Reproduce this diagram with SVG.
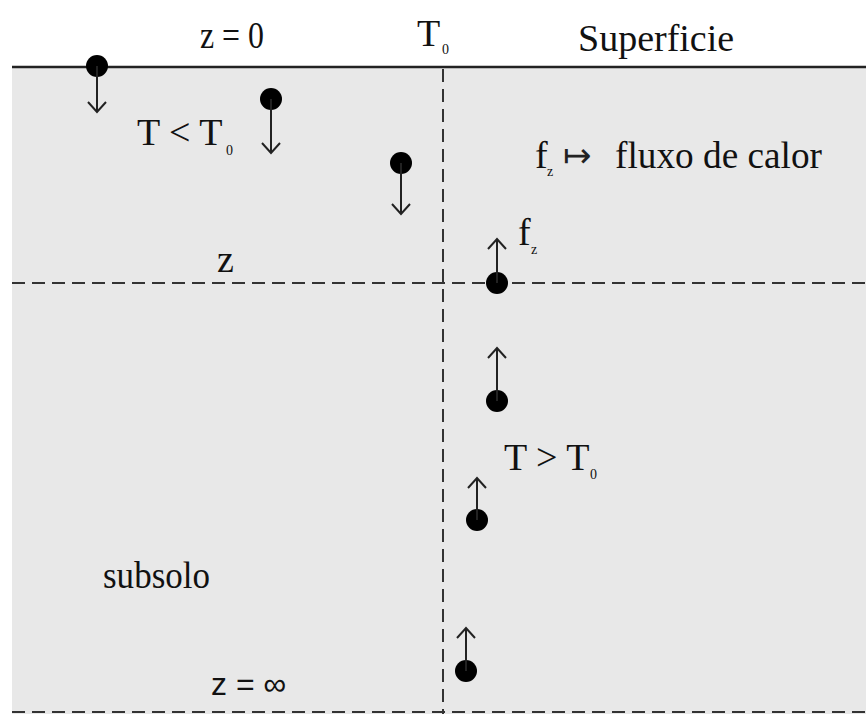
<svg xmlns="http://www.w3.org/2000/svg" width="866" height="714" viewBox="0 0 866 714">
<defs>
<style>
.t{font-family:"Liberation Serif","Times New Roman",serif;font-size:38px;fill:#111}
.sub{font-family:"Liberation Serif","Times New Roman",serif;font-size:14px;fill:#111}
.dash{stroke:#333;stroke-width:2;stroke-dasharray:13,7;fill:none}
.arr{stroke:#222;stroke-width:2;fill:none}
.dot{fill:#000}
</style>
</defs>
<rect x="0" y="0" width="866" height="714" fill="#fff"/>
<rect x="12" y="67" width="854" height="647" fill="#e8e8e8"/>
<g id="connectors">
<line x1="12" y1="67" x2="866" y2="67" stroke="#222" stroke-width="2.5"/>
<line class="dash" x1="12" y1="283" x2="866" y2="283"/>
<line class="dash" x1="12" y1="712" x2="866" y2="712"/>
<line class="dash" x1="443" y1="69" x2="443" y2="714"/>
</g>
<g id="p1"><circle class="dot" cx="97" cy="66" r="11"/><path class="arr" d="M97,66 V112 M88,102 L97,112 L106,102"/></g>
<g id="p2"><circle class="dot" cx="271" cy="99" r="11"/><path class="arr" d="M271,99 V153 M262,143 L271,153 L280,143"/></g>
<g id="p3"><circle class="dot" cx="401" cy="163" r="11"/><path class="arr" d="M401,163 V214 M392,204 L401,214 L410,204"/></g>
<g id="p4"><circle class="dot" cx="497" cy="283" r="11"/><path class="arr" d="M497,283 V239 M488,249 L497,239 L506,249"/></g>
<g id="p5"><circle class="dot" cx="497" cy="401" r="11"/><path class="arr" d="M497,401 V348 M488,358 L497,348 L506,358"/></g>
<g id="p6"><circle class="dot" cx="477" cy="520" r="11"/><path class="arr" d="M477,520 V478 M468,488 L477,478 L486,488"/></g>
<g id="p7"><circle class="dot" cx="466" cy="671" r="11"/><path class="arr" d="M466,671 V628 M457,638 L466,628 L475,638"/></g>
<g id="labels">
<text class="t" x="200" y="48" textLength="64" lengthAdjust="spacingAndGlyphs">z = 0</text>
<text class="t" x="417" y="46">T</text><text class="sub" x="442" y="54">0</text>
<text class="t" x="578" y="51">Superficie</text>
<text class="t" x="137" y="145">T &lt; T</text><text class="sub" x="226" y="155">0</text>
<text class="t" x="535" y="168">f</text><text class="sub" x="547" y="176">z</text>
<text x="563" y="167" style="font-family:'DejaVu Sans',sans-serif;font-size:34px;fill:#222">↦</text>
<text class="t" x="615" y="168" textLength="207" lengthAdjust="spacingAndGlyphs">fluxo de calor</text>
<text class="t" x="518" y="245">f</text><text class="sub" x="531" y="254">z</text>
<text class="t" x="217" y="272">z</text>
<text class="t" x="504" y="470">T &gt; T</text><text class="sub" x="590" y="479">0</text>
<text class="t" x="103" y="588" textLength="107" lengthAdjust="spacingAndGlyphs">subsolo</text>
<text x="211" y="695" style="font-family:'Liberation Sans',Arial,sans-serif;font-size:32px;fill:#111">z = ∞</text>
</g>
</svg>
